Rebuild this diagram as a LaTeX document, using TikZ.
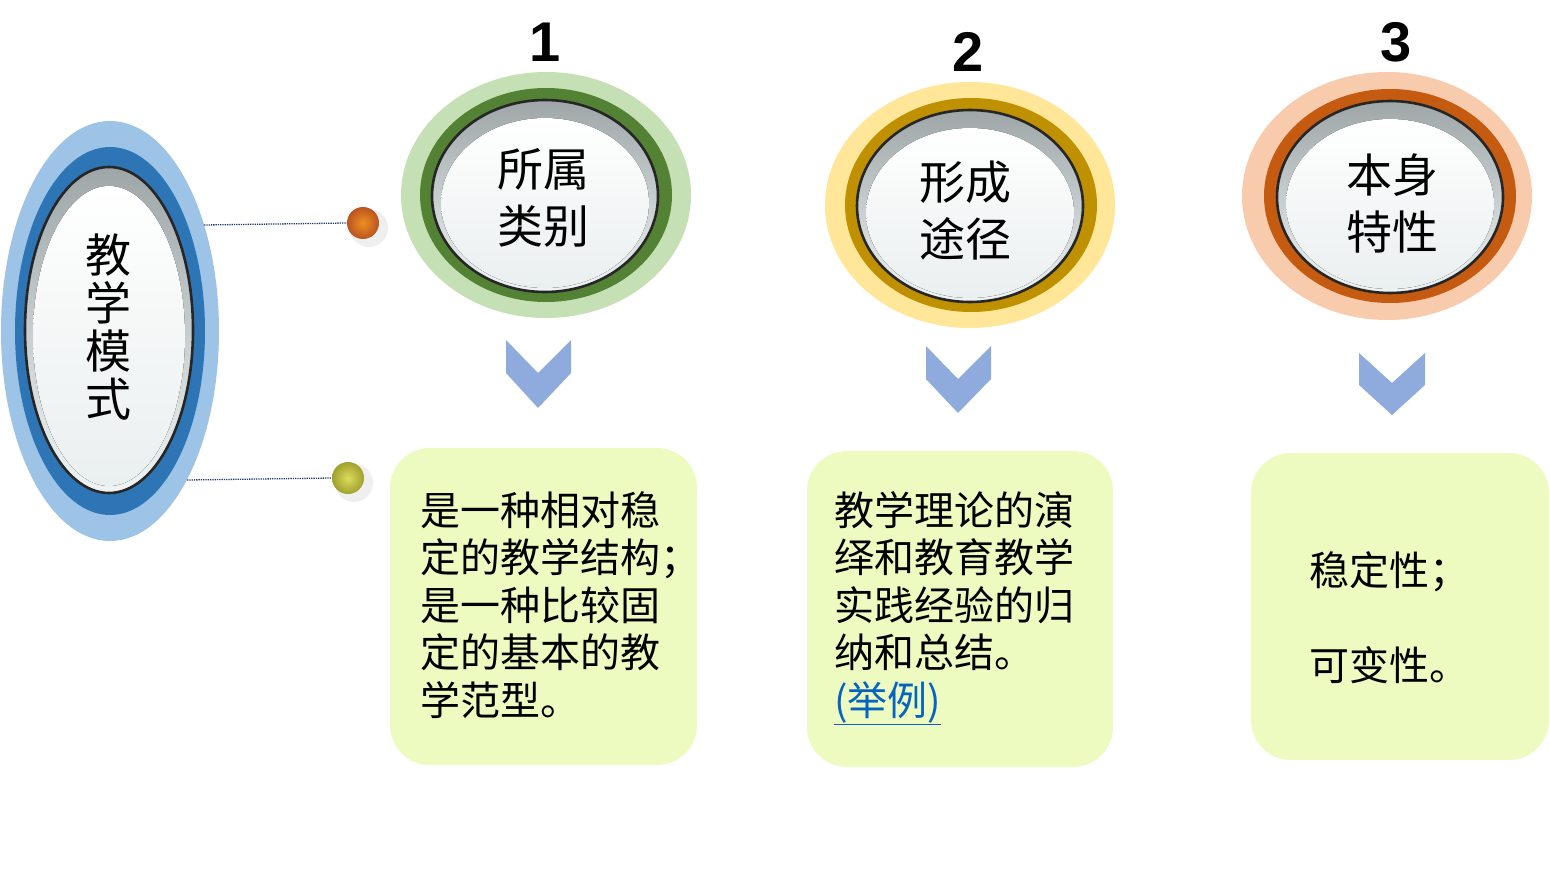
\documentclass[tikz,border=0pt]{standalone}
\usepackage{fontspec}
\newfontfamily\cjk{Noto Sans CJK SC}
\newfontfamily\numfont{Liberation Sans}
\usetikzlibrary{shapes.geometric}
\definecolor{lblue}{HTML}{9DC3E6}
\definecolor{dblue}{HTML}{2E75B6}
\definecolor{lgreen}{HTML}{C5E0B4}
\definecolor{dgreen}{HTML}{548235}
\definecolor{lyellow}{HTML}{FFE699}
\definecolor{dyellow}{HTML}{BF9000}
\definecolor{lorange}{HTML}{F8CBAD}
\definecolor{dorange}{HTML}{C55A11}
\definecolor{chev}{HTML}{8FAADC}
\definecolor{boxfill}{HTML}{EDFBC0}
\definecolor{rimtop}{HTML}{9EA6A8}
\definecolor{rimbot}{HTML}{F0F4F4}
\definecolor{himid}{HTML}{D3D9DA}
\definecolor{hibot}{HTML}{EAEFEF}
\definecolor{dotcol}{HTML}{1F3E6E}
\definecolor{linkblue}{HTML}{0563C1}
\definecolor{ballorange}{HTML}{E8692A}
\definecolor{ballyellow}{HTML}{D6D63E}
\definecolor{shadowgrey}{HTML}{EFEFEF}
\begin{document}
\begin{tikzpicture}[x=1pt,y=-1pt,
  innerbtn/.style={draw=black!85,line width=2.6pt,top color=rimtop,bottom color=rimbot},
  hilite/.style={top color=white,middle color=himid,bottom color=hibot},
  hdr/.style={font=\cjk\fontsize{46}{57}\selectfont,align=center,inner sep=0pt},
  num/.style={font=\numfont\bfseries\fontsize{56}{60}\selectfont,inner sep=0pt,anchor=base},
  body/.style={font=\cjk\fontsize{40}{47.5}\selectfont,align=left,inner sep=0pt,anchor=west},
  tbox/.style={rectangle,rounded corners=40pt,fill=boxfill,inner sep=0pt},
  chevron/.style={fill=chev},
  dotline/.style={dotcol,densely dotted,line width=1.3pt},
  ballnode/.style={circle,minimum size=32pt,inner sep=0pt},
  shadow/.style={circle,minimum size=38pt,inner sep=0pt,fill=shadowgrey}
]
\useasboundingbox[fill=white] (0,0) rectangle (1550,869);

% ---- left main ellipse
\node[ellipse,fill=lblue,minimum width=218pt,minimum height=420pt,inner sep=0pt] (mainouter) at (110,331) {};
\fill[dblue] (110,331) ellipse [x radius=95pt,y radius=184pt];
\draw[innerbtn] (109,330) ellipse [x radius=84pt,y radius=163pt];
\fill[hilite] (109,336) ellipse [x radius=76pt,y radius=150pt];
\node[hdr,font=\cjk\fontsize{46}{48}\selectfont] (maintext) at (108,327) {教\\学\\模\\式};

% ---- dotted connectors and balls
\coordinate (s1) at (204,225);
\coordinate (s2) at (187,480);
\node[shadow] (sh1) at (369,228) {};
\node[shadow] (sh2) at (354,483) {};
\node[ballnode,inner color=ballorange!75!yellow,outer color=ballorange!80!black] (ball1) at (363,223) {};
\node[ballnode,inner color=ballyellow!85!white,outer color=ballyellow!75!black] (ball2) at (348,478) {};
\draw[dotline] (s1) -- (ball1.west);
\draw[dotline] (s2) -- (ball2.west);

% ---- knob 1
\node[ellipse,fill=lgreen,minimum width=290pt,minimum height=246pt,inner sep=0pt] (k1) at (546,195) {};
\fill[dgreen] (546,195) ellipse [x radius=126pt,y radius=107pt];
\draw[innerbtn] (545,196) ellipse [x radius=113pt,y radius=96pt];
\fill[hilite] (545,203) ellipse [x radius=104pt,y radius=85pt];
\node[hdr] (k1t) at (543,198) {所属\\类别};
\node[num] (n1) at (545,62) {1};

% ---- knob 2
\node[ellipse,fill=lyellow,minimum width=290pt,minimum height=246pt,inner sep=0pt] (k2) at (970,205) {};
\fill[dyellow] (971,205) ellipse [x radius=126pt,y radius=107pt];
\draw[innerbtn] (970,206) ellipse [x radius=113pt,y radius=96pt];
\fill[hilite] (970,213) ellipse [x radius=104pt,y radius=85pt];
\node[hdr] (k2t) at (965,211) {形成\\途径};
\node[num] (n2) at (968,72) {2};

% ---- knob 3
\node[ellipse,fill=lorange,minimum width=290pt,minimum height=248pt,inner sep=0pt] (k3) at (1387,196) {};
\fill[dorange] (1390,196) ellipse [x radius=126pt,y radius=107pt];
\draw[innerbtn] (1390,197) ellipse [x radius=113pt,y radius=96pt];
\fill[hilite] (1390,204) ellipse [x radius=104pt,y radius=85pt];
\node[hdr] (k3t) at (1392,203) {本身\\特性};
\node[num] (n3) at (1396,62) {3};

% ---- chevrons
\fill[chevron] (506,340) -- (538,373) -- (571,340) -- (571,373) -- (538,408) -- (506,373) -- cycle;
\fill[chevron] (926,346) -- (958,379) -- (991,346) -- (991,379) -- (958,413) -- (926,379) -- cycle;
\fill[chevron] (1359,353) -- (1392,383) -- (1425,353) -- (1425,385) -- (1392,415) -- (1359,385) -- cycle;

% ---- boxes
\node[tbox,minimum width=307pt,minimum height=317pt] (b1) at (543.5,606.5) {};
\node[tbox,minimum width=306pt,minimum height=316pt] (b2) at (960,609) {};
\node[tbox,minimum width=298pt,minimum height=307pt] (b3) at (1400,606.5) {};

\node[body] (b1t) at (420,605) {是一种相对稳\\定的教学结构；\\是一种比较固\\定的基本的教\\学范型。};
\node[body] (b2t) at (834,608) {教学理论的演\\绎和教育教学\\实践经验的归\\纳和总结。\\\textcolor{linkblue}{\underline{(举例)}}};
\node[body] (b3t) at (1309,617.5) {稳定性；\\[47.5pt]可变性。};
\end{tikzpicture}
\end{document}
